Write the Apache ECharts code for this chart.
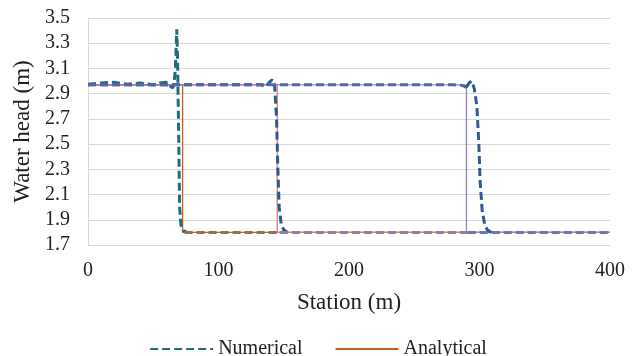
<!DOCTYPE html>
<html>
<head>
<meta charset="utf-8">
<script src="https://cdn.jsdelivr.net/npm/echarts@6/dist/echarts.min.js"></script>
<style>html,body{margin:0;padding:0;background:#fff}#c{width:636px;height:356px}</style>
</head>
<body>
<div id="c"></div>
<script>
// ---- data (station m, water head m) ----
var xTicks = [0, 100, 200, 300, 400];
var yTicks = [1.7, 1.9, 2.1, 2.3, 2.5, 2.7, 2.9, 3.1, 3.3, 3.5];

// Numerical, first front (with spike)
var num1Front = [[0,2.975],[10,2.985],[20,2.99],[30,2.975],[40,2.985],[50,2.97],[55,2.985],[60,2.99],[63,2.96],[65,2.945],[66,2.99],[67,3.1],[68,3.41],[68.6,3.2],[69,2.9],[69.6,2.5],[70.2,2.0],[71.2,1.86],[73,1.815],[76,1.8]];
var num1Tail = [[74,1.8],[147,1.8]];
// Numerical, second front
var num2Front = [[0,2.97],[133,2.97],[136,2.955],[139,2.99],[141,3.01],[143,2.97],[144.5,2.7],[145.5,2.3],[146.5,2.0],[148,1.87],[150,1.82],[153,1.8]];
var num2Tail = [[147,1.8],[291,1.8]];
// Numerical, third front
var num3Plateau = [[0,2.97],[280,2.97],[287,2.965],[290,2.95]];
var num3Front = [[290,2.95],[292,2.985],[294,3.0],[296,2.94],[298,2.8],[299.5,2.5],[300.5,2.2],[302,1.98],[304,1.86],[306,1.82],[309,1.8]];
var num3Tail = [[291,1.8],[400,1.8]];

// Analytical fronts
var ana1 = [[0,2.97],[72.5,2.97],[72.5,1.8],[400,1.8]];
var ana2 = [[0,2.97],[145,2.97],[145,1.8],[400,1.8]];
var ana3 = [[0,2.97],[290,2.97],[290,1.8],[400,1.8]];

var dash = [8, 4];
function dashed(name, data, color, z) {
  return {name: name, type: 'line', data: data, symbol: 'none', smooth: false, z: z,
    lineStyle: {color: color, width: 3, type: dash}, itemStyle: {color: color}};
}
function solid(name, data, color, z) {
  return {name: name, type: 'line', data: data, symbol: 'none', z: z,
    lineStyle: {color: color, width: 1.3, type: 'solid'}, itemStyle: {color: color}};
}

var chart = echarts.init(document.getElementById('c'), null, {renderer: 'canvas'});
var font = '"Liberation Serif", "Times New Roman", serif';
chart.setOption({
  animation: false,
  backgroundColor: '#ffffff',
  textStyle: {fontFamily: font},
  grid: {left: 88, right: 26, top: 18, bottom: 111},
  legend: {
    data: ['Numerical', 'Analytical'],
    left: 'center', top: 334,
    itemWidth: 63, itemHeight: 14, itemGap: 32,
    itemStyle: {opacity: 0, borderWidth: 0},
    textStyle: {fontFamily: font, fontSize: 20, color: '#222'}
  },
  xAxis: {
    type: 'value', min: 0, max: 400, interval: 100,
    name: 'Station (m)', nameLocation: 'middle', nameGap: 46,
    nameTextStyle: {fontFamily: font, fontSize: 23, color: '#222'},
    axisLine: {show: false}, axisTick: {show: false},
    splitLine: {show: false},
    axisLabel: {fontFamily: font, fontSize: 20, color: '#222', margin: 16}
  },
  yAxis: {
    type: 'value', min: 1.7, max: 3.5,
    name: 'Water head (m)', nameLocation: 'middle', nameGap: 48,
    nameTextStyle: {fontFamily: font, fontSize: 23, color: '#222'},
    axisLine: {show: true, lineStyle: {color: '#d9d9d9', width: 1}},
    axisTick: {show: false, customValues: yTicks},
    splitLine: {show: true, lineStyle: {color: '#d9d9d9', width: 1}},
    axisLabel: {fontFamily: font, fontSize: 20, color: '#222', margin: 18,
      customValues: yTicks, formatter: function (v) { return v.toFixed(1); }}
  },
  series: [
    solid('Analytical', ana1, '#c65d1e', 2),
    solid('Analytical 2', ana2, '#d97c7c', 2),
    solid('Analytical 3', ana3, '#8a84c0', 2),
    dashed('Numerical', num1Front, '#1e6d78', 3),
    dashed('Numerical 2', num2Front, '#2a5896', 4),
    dashed('Numerical 3p', num3Plateau, '#5864a6', 5),
    dashed('Numerical 3', num3Front, '#2c5a98', 5),
    dashed('Numerical 1t', num1Tail, '#8a7458', 4),
    dashed('Numerical 2t', num2Tail, '#93819b', 4),
    dashed('Numerical 3t', num3Tail, '#6f74b6', 4)
  ]
});
</script>
</body>
</html>
